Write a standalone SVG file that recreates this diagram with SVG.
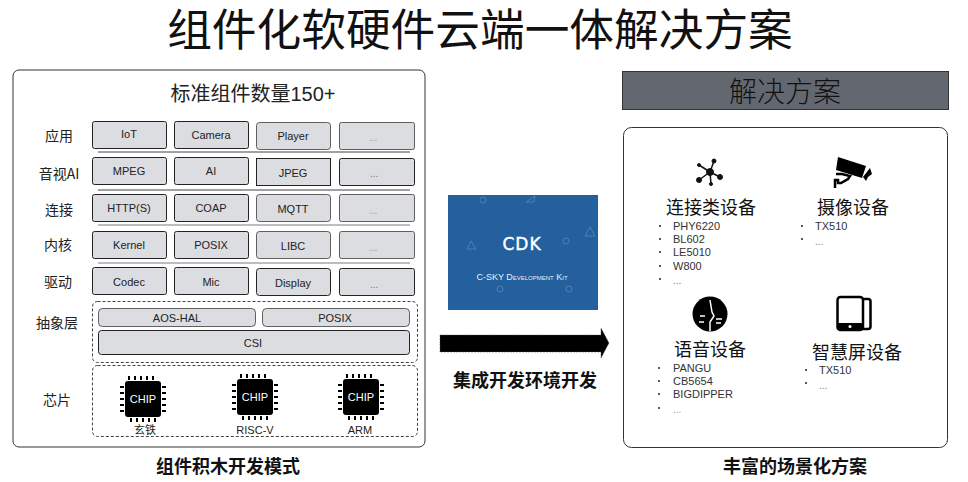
<svg xmlns="http://www.w3.org/2000/svg" xmlns:xlink="http://www.w3.org/1999/xlink" width="968" height="482" viewBox="0 0 968 482">
<style>
text{font-family:"Liberation Sans","Noto Sans CJK SC",sans-serif;fill:#222;text-anchor:middle}
.cn{font-family:"Noto Sans CJK SC",sans-serif}
.panel{fill:#fff;stroke:#333;stroke-width:1}
.b{fill:#dcdde0;stroke:#222;stroke-width:1}
.t{font-size:11px}
.lab{font-family:"Noto Sans CJK SC",sans-serif;font-size:14px}
.sep{stroke:#444;stroke-width:1}
.dash{fill:#fff;stroke:#444;stroke-dasharray:3 2}
.cap{font-family:"Noto Sans CJK SC",sans-serif;font-size:18px;font-weight:700;fill:#111}
.h{font-family:"Noto Sans CJK SC",sans-serif;font-size:18px;font-weight:400;fill:#111}
.li{font-size:11px;text-anchor:start;fill:#333}
.dots{font-size:10px;text-anchor:start;fill:#777}
.bul{fill:#222}
.chiptxt{font-size:11px;fill:#fff}
</style>
<defs>
<g id="chip">
<rect x="0" y="0" width="36" height="36" rx="3" fill="#000"/>
<path d="M4 -5v4M10 -5v4M16 -5v4M22 -5v4M28 -5v4M6 37v4M12 37v4M18 37v4M24 37v4M30 37v4M-5 6h4M-5 12h4M-5 18h4M-5 24h4M-5 30h4M37 6h4M37 12h4M37 18h4M37 24h4M37 30h4" stroke="#000" stroke-width="2" fill="none"/>
</g>
</defs>

<text x="480" y="46" style="font-size:44.700px;fill:#111">组件化软硬件云端一体解决方案</text>

<g id="component-panel">
<rect class="panel" x="13" y="70" width="412" height="377" rx="6"/>
<text x="253" y="101" style="font-size:20px;fill:#222">标准组件数量150+</text>
</g>

<g id="layer-labels">
<text class="lab" x="59" y="141">应用</text>
<text class="lab" x="59" y="179">音视AI</text>
<text class="lab" x="59" y="215">连接</text>
<text class="lab" x="58" y="250">内核</text>
<text class="lab" x="58" y="287">驱动</text>
<text class="lab" x="57" y="328">抽象层</text>
<text class="lab" x="57" y="405">芯片</text>
</g>

<g id="separators">
<line class="sep" x1="98" y1="152" x2="410" y2="152"/>
<line class="sep" x1="98" y1="190" x2="410" y2="190"/>
<line class="sep" x1="98" y1="225" x2="410" y2="225" stroke-opacity=".7"/>
<line class="sep" x1="98" y1="263" x2="410" y2="263" stroke-opacity=".7"/>
</g>

<g id="row-app">
<rect class="b" x="92.500" y="121.500" width="74" height="27" rx="2"/><text class="t" x="129" y="138">IoT</text>
<rect class="b" x="174.500" y="121.500" width="74" height="27" rx="2"/><text class="t" x="211" y="139">Camera</text>
<rect class="b" x="256.500" y="122.500" width="74" height="27" rx="3" stroke-opacity=".7"/><text class="t" x="293" y="140">Player</text>
<rect class="b" x="339.500" y="122.500" width="75" height="27" rx="2" stroke-opacity=".7"/><text class="dots" x="369" y="141" style="fill:#999">...</text>
</g>
<g id="row-av">
<rect class="b" x="92.500" y="157.500" width="74" height="27" rx="2"/><text class="t" x="129" y="175">MPEG</text>
<rect class="b" x="174.500" y="157.500" width="74" height="27" rx="2"/><text class="t" x="211" y="175">AI</text>
<rect class="b" x="256.500" y="158.500" width="74" height="27"/><text class="t" x="293" y="177">JPEG</text>
<rect class="b" x="339.500" y="158.500" width="75" height="27" rx="2"/><text class="dots" x="370" y="177">...</text>
</g>
<g id="row-conn">
<rect class="b" x="92.500" y="194.500" width="74" height="27" rx="2"/><text class="t" x="129" y="212">HTTP(S)</text>
<rect class="b" x="174.500" y="194.500" width="74" height="27" rx="2"/><text class="t" x="211" y="212">COAP</text>
<rect class="b" x="256.500" y="194.500" width="74" height="27" rx="3" stroke-opacity=".7"/><text class="t" x="293" y="213">MQTT</text>
<rect class="b" x="339.500" y="194.500" width="75" height="27" rx="2" stroke-opacity=".7"/><text class="dots" x="369" y="214" style="fill:#999">...</text>
</g>
<g id="row-kernel">
<rect class="b" x="92.500" y="231.500" width="74" height="27" rx="2"/><text class="t" x="129" y="249">Kernel</text>
<rect class="b" x="174.500" y="231.500" width="74" height="27" rx="2"/><text class="t" x="211" y="249">POSIX</text>
<rect class="b" x="256.500" y="231.500" width="74" height="27" rx="3" stroke-opacity=".7"/><text class="t" x="293" y="250">LIBC</text>
<rect class="b" x="339.500" y="231.500" width="75" height="27" rx="2" stroke-opacity=".7"/><text class="dots" x="369" y="251" style="fill:#999">...</text>
</g>
<g id="row-driver">
<rect class="b" x="92.500" y="267.500" width="74" height="27" rx="2"/><text class="t" x="129" y="286">Codec</text>
<rect class="b" x="174.500" y="267.500" width="74" height="27" rx="2"/><text class="t" x="211" y="286">Mic</text>
<rect class="b" x="256.500" y="268.500" width="74" height="27" rx="3"/><text class="t" x="293" y="287">Display</text>
<rect class="b" x="339.500" y="268.500" width="75" height="27" rx="2"/><text class="dots" x="370" y="288">...</text>
</g>

<g id="abstraction">
<rect class="dash" x="92.500" y="301.500" width="325" height="61" rx="5"/>
<rect class="b" x="98.500" y="308.500" width="157" height="18" rx="4" stroke-opacity=".7"/><text class="t" x="177" y="322">AOS-HAL</text>
<rect class="b" x="262.500" y="308.500" width="147" height="18" rx="4" stroke-opacity=".7"/><text class="t" x="335" y="322">POSIX</text>
<rect class="b" x="98.500" y="330.500" width="311" height="24" rx="3"/><text class="t" x="253" y="347">CSI</text>
</g>

<g id="chips">
<rect class="dash" x="92.500" y="365.500" width="325" height="71" rx="5"/>
<use xlink:href="#chip" href="#chip" x="125" y="381"/><text class="chiptxt" x="143" y="403">CHIP</text><text class="cn" x="145" y="434" style="font-size:11px">玄铁</text>
<use xlink:href="#chip" href="#chip" x="237" y="379"/><text class="chiptxt" x="255" y="401">CHIP</text><text x="255" y="434" style="font-size:11px">RISC-V</text>
<use xlink:href="#chip" href="#chip" x="343" y="379"/><text class="chiptxt" x="361" y="401">CHIP</text><text x="360" y="434" style="font-size:11px">ARM</text>
</g>

<text class="cap" x="228" y="473">组件积木开发模式</text>

<g id="cdk">
<rect x="448" y="195" width="150" height="115" fill="#245f9e"/>
<g fill="none" stroke="#5b8fc4" stroke-opacity=".7" stroke-width="1">
<circle cx="483" cy="200" r="3"/><circle cx="566" cy="241" r="3"/><circle cx="500" cy="289" r="3"/><circle cx="569" cy="289" r="3"/>
<path d="M535 196l-1 6h-8zM590 227l-5 9h10zM471 241l-4 8h9z"/>
</g>
<text x="522" y="250" style="font-size:17px;fill:#fff;font-family:'DejaVu Sans',sans-serif;letter-spacing:1px;stroke:#fff;stroke-width:.4">CDK</text>
<text x="522" y="280" style="font-size:9px;font-variant:small-caps;fill:#e8eef6">C-SKY Development Kit</text>
</g>

<g id="connectors">
<path d="M440 335H601V328L609 343L601 358V352H440Z" fill="#000" stroke="#555" stroke-width=".5" stroke-dasharray="2 1"/>
</g>
<text class="cap" x="525" y="387">集成开发环境开发</text>

<g id="solution-header">
<rect x="622.500" y="71.500" width="326" height="38" fill="#636870" stroke="#333"/>
<text class="cn" x="785" y="102" style="font-size:28px;font-weight:300;fill:#111">解决方案</text>
</g>

<g id="solution-panel">
<rect class="panel" x="623.500" y="127.500" width="324" height="320" rx="8"/>
</g>

<g id="device-connect">
<g fill="#111" stroke="#111">
<path d="M710 172L699 165M710 172L714 161M710 172L720 177M710 172L699 180M710 172L711 184" stroke-width="1.500"/>
<circle cx="710" cy="172" r="3.500"/><circle cx="699" cy="165" r="1.500"/><circle cx="714" cy="161" r="2"/><circle cx="720" cy="177" r="2.500"/><circle cx="699" cy="180" r="2.500"/><circle cx="711" cy="184" r="1.500"/>
</g>
<text class="h" x="711" y="214">连接类设备</text>
<circle class="bul" cx="660" cy="226" r="1"/><text class="li" x="673" y="230">PHY6220</text>
<circle class="bul" cx="660" cy="239" r="1"/><text class="li" x="673" y="243">BL602</text>
<circle class="bul" cx="660" cy="252" r="1"/><text class="li" x="673" y="256">LE5010</text>
<circle class="bul" cx="660" cy="266" r="1"/><text class="li" x="673" y="270">W800</text>
<circle class="bul" cx="660" cy="279" r="1"/><text class="dots" x="673" y="284">...</text>
</g>

<g id="device-camera">
<path d="M838 157L866 166L862 178L836 170Z" fill="#000"/>
<path d="M863 177L870 168L872 174L868 177L866 181Z" fill="#000"/>
<path d="M836 174h6l8 2-2 3-7 4h-3v-3h-3v8" fill="none" stroke="#000" stroke-width="2.500"/>
<text class="h" x="853" y="214">摄像设备</text>
<circle class="bul" cx="802" cy="226" r="1"/><text class="li" x="815" y="230">TX510</text>
<circle class="bul" cx="802" cy="239" r="1"/><text class="dots" x="815" y="245">...</text>
</g>

<g id="device-voice">
<circle cx="710" cy="314" r="17.500" fill="#000"/>
<path d="M710 300L712 312L714 316L710 322V331M704 309h.1M700 316h5M699 322h5M716 319h6M716 323h5" fill="none" stroke="#fff" stroke-width="1.500"/>
<text class="h" x="710" y="356">语音设备</text>
<circle class="bul" cx="659" cy="368" r="1"/><text class="li" x="673" y="372">PANGU</text>
<circle class="bul" cx="659" cy="381" r="1"/><text class="li" x="673" y="385">CB5654</text>
<circle class="bul" cx="659" cy="394" r="1"/><text class="li" x="673" y="398">BIGDIPPER</text>
<circle class="bul" cx="659" cy="408" r="1"/><text class="dots" x="673" y="413" style="fill:#999">...</text>
</g>

<g id="device-screen">
<rect x="837.500" y="297" width="25.500" height="33" rx="3" fill="none" stroke="#000" stroke-width="2.500"/>
<path d="M863 299h5a2.500 2.500 0 0 1 2.500 2.500v25a2.500 2.500 0 0 1 -2.500 2.500h-5" fill="none" stroke="#000" stroke-width="2.500"/>
<rect x="837" y="323" width="26" height="7" rx="2" fill="#000"/><circle cx="850" cy="326.500" r="1.500" fill="#fff"/>
<text class="h" x="857" y="359">智慧屏设备</text>
<circle class="bul" cx="806" cy="370" r="1"/><text class="li" x="819" y="374">TX510</text>
<circle class="bul" cx="806" cy="383" r="1"/><text class="dots" x="819" y="389">...</text>
</g>

<text class="cap" x="795" y="473">丰富的场景化方案</text>
</svg>
